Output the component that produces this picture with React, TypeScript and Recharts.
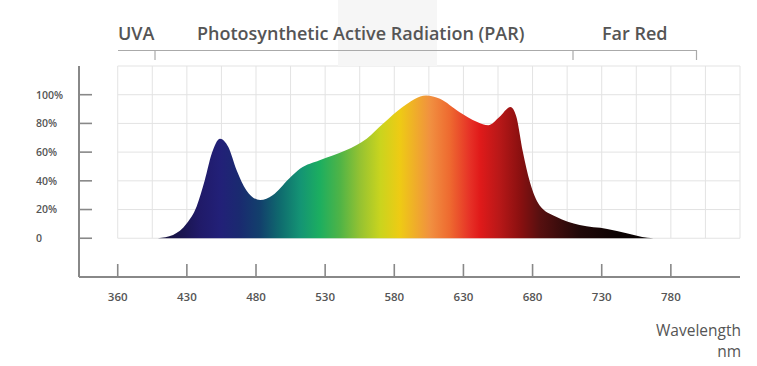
import React from "react";
import { ComposedChart, Area, XAxis, YAxis, ReferenceLine } from "recharts";

// ---- data ----
const wavelengths = [409, 420, 430, 437, 443, 448, 454, 460, 466, 473, 483, 492, 504, 512, 526, 545, 560, 572, 586, 603, 613, 627, 640, 648, 656, 664, 668, 673, 678, 685, 697, 714, 734, 748, 763, 772];
const intensity = [0, 2.3, 10.4, 22, 40.5, 59, 69.4, 63.6, 47.4, 33.5, 26.6, 30, 41.7, 48.6, 54.4, 61.3, 69.4, 79.9, 91.4, 99.5, 97.2, 88, 81, 78.7, 84.4, 91.4, 85.6, 60, 39.3, 23, 15, 9.2, 6.5, 3.5, 0.4, 0];

const xTickValues = [380, 430, 480, 530, 580, 630, 680, 730, 780];
const xTickLabels = ["360", "430", "480", "530", "580", "630", "680", "730", "780"];
const yTickValues = [0, 20, 40, 60, 80, 100];
const yTickLabels = ["0", "20%", "40%", "60%", "80%", "100%"];

const gridX = [380, 405, 430, 455, 480, 505, 530, 555, 580, 605, 630, 655, 680, 705, 730, 755, 780, 805, 830];
const gridY = [0, 20, 40, 60, 80, 100, 120];

const bandLabels = ["UVA", "Photosynthetic Active Radiation (PAR)", "Far Red"];

// spectral colour stops (wavelength nm -> colour)
const stopNm = [409, 427, 439, 454, 468, 483, 497, 512, 526, 541, 555, 570, 584, 606, 620, 635, 642, 656, 671, 685, 700, 714, 743, 772];
const stopColors = ["#15123a", "#1a1550", "#201a68", "#222078", "#1a2a70", "#12406c", "#0f6a6e", "#149474", "#1cae60", "#50b446", "#94c232", "#cad41e", "#eecb14", "#f19040", "#ee6a30", "#e63026", "#e01a1a", "#b81818", "#8a1010", "#581010", "#3a0c0c", "#200808", "#0c0303", "#050101"];

const data = wavelengths.map((w, i) => ({ nm: w, v: intensity[i] }));

const FONT = "'Open Sans', 'Noto Sans', sans-serif";
const TEXT = "#555";

const XTick = (props: any) => {
  const { x, y, index } = props;
  return (
    <g>
      <line x1={x} x2={x} y1={y - 13} y2={y} stroke="#888" strokeWidth={1.6} />
      <text x={x} y={y + 24} textAnchor="middle" fontSize={11.5} fontWeight={600} fill={TEXT} fontFamily={FONT}>
        {xTickLabels[index]}
      </text>
    </g>
  );
};

const YTick = (props: any) => {
  const { x, y, index } = props;
  return (
    <g>
      <line x1={x} x2={x + 13} y1={y} y2={y} stroke="#888" strokeWidth={1.6} />
      <text x={36} y={y + 3.8} textAnchor="start" fontSize={10.5} fontWeight={600} fill={TEXT} fontFamily={FONT}>
        {yTickLabels[index]}
      </text>
    </g>
  );
};

export default function App() {
  const first = wavelengths[0];
  const last = wavelengths[wavelengths.length - 1];
  return (
    <div style={{ position: "absolute", left: 0, top: 0, background: "#fff" }}>
      <ComposedChart width={757} height={366} data={data} margin={{ top: 66, right: 17, bottom: 0, left: 0 }}>
        <defs>
          <linearGradient id="spec" x1="0" y1="0" x2="1" y2="0">
            {stopNm.map((n, i) => (
              <stop key={i} offset={Math.max(0, Math.min(1, (n - first) / (last - first)))} stopColor={stopColors[i]} />
            ))}
          </linearGradient>
        </defs>
        <rect x={338} y={0} width={99} height={66} fill="#f6f6f6" />
        <text x={118} y={40} fontSize={18} fontWeight={600} fill={TEXT} fontFamily={FONT}>{bandLabels[0]}</text>
        <text x={197} y={40} fontSize={18} fontWeight={600} fill={TEXT} fontFamily={FONT}>{bandLabels[1]}</text>
        <text x={602} y={40} fontSize={18} fontWeight={600} fill={TEXT} fontFamily={FONT}>{bandLabels[2]}</text>
        <line x1={118} x2={697} y1={50.5} y2={50.5} stroke="#aaa" strokeWidth={1.2} />
        <line x1={155} x2={155} y1={50.5} y2={60} stroke="#aaa" strokeWidth={1.2} />
        <line x1={573} x2={573} y1={50.5} y2={60} stroke="#aaa" strokeWidth={1.2} />
        <line x1={696.5} x2={696.5} y1={50.5} y2={60} stroke="#aaa" strokeWidth={1.2} />
        <text x={741} y={335.5} textAnchor="end" fontSize={15.5} fill={TEXT} fontFamily={FONT}>Wavelength</text>
        <text x={741} y={357} textAnchor="end" fontSize={15.5} fill={TEXT} fontFamily={FONT}>nm</text>

        {gridX.map((g) => (
          <ReferenceLine key={"gx" + g} segment={[{ x: g, y: 0 }, { x: g, y: 120 }]} stroke="#e3e3e3" strokeWidth={1} zIndex={-100} />
        ))}
        {gridY.map((g) => (
          <ReferenceLine key={"gy" + g} segment={[{ x: 380, y: g }, { x: 830, y: g }]} stroke="#e3e3e3" strokeWidth={1} zIndex={-100} />
        ))}

        <XAxis
          dataKey="nm"
          type="number"
          domain={[352, 830]}
          ticks={xTickValues}
          interval={0}
          height={89}
          tickSize={0}
          tickMargin={0}
          tickLine={false}
          axisLine={{ stroke: "#888", strokeWidth: 2 }}
          tick={<XTick />}
          allowDataOverflow
        />
        <YAxis
          type="number"
          domain={[-27, 120]}
          ticks={yTickValues}
          interval={0}
          width={79}
          tickSize={0}
          tickMargin={0}
          tickLine={false}
          axisLine={{ stroke: "#888", strokeWidth: 2 }}
          tick={<YTick />}
          allowDataOverflow
        />
        <Area
          dataKey="v"
          type="monotone"
          baseValue={0}
          stroke="none"
          fill="url(#spec)"
          fillOpacity={1}
          isAnimationActive={false}
          dot={false}
          activeDot={false}
        />
      </ComposedChart>
    </div>
  );
}
